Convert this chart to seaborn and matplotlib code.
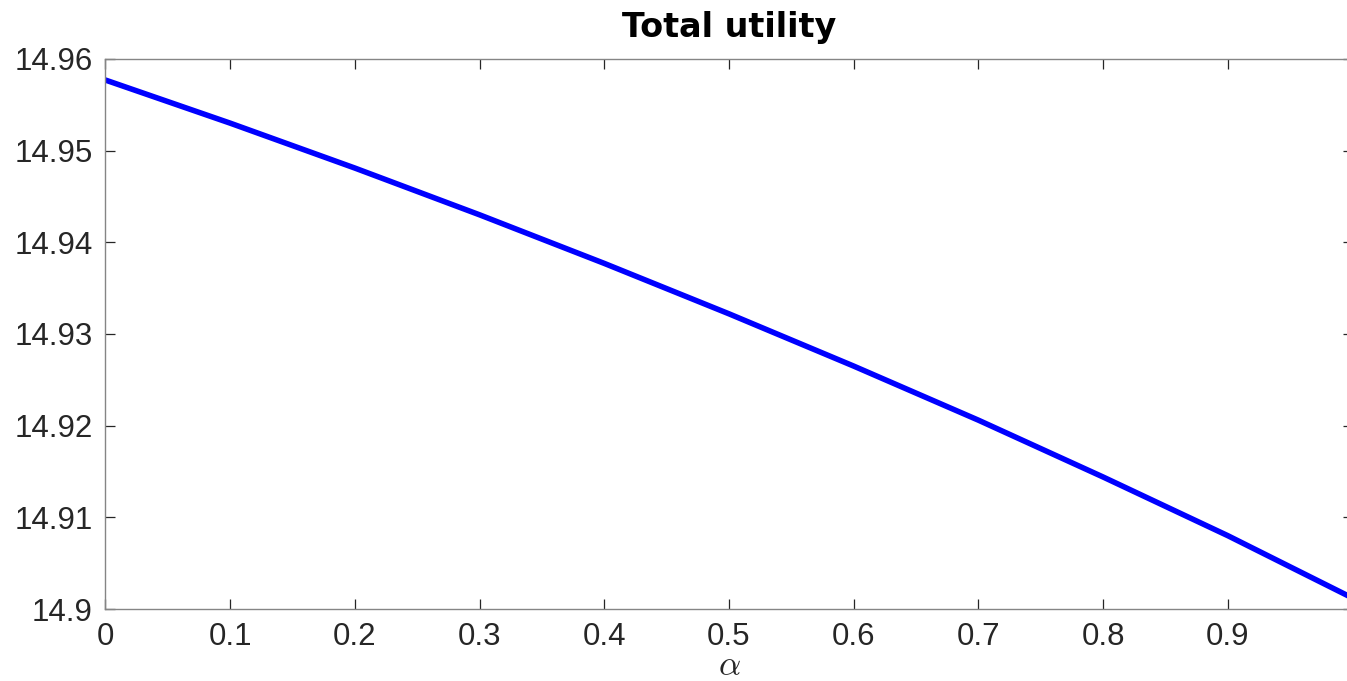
import matplotlib

matplotlib.use("Agg")
import matplotlib.pyplot as plt  # noqa: E402
import pandas as pd  # noqa: E402
import seaborn as sns  # noqa: E402

# values
alpha = [0.0, 0.1, 0.2, 0.3, 0.4, 0.5, 0.6, 0.7, 0.8, 0.9, 1.0]
utility = [14.9577, 14.9530, 14.9481, 14.9430, 14.9377, 14.9322,
           14.9265, 14.9206, 14.9144, 14.9080, 14.9012]
x_ticks = [0.0, 0.1, 0.2, 0.3, 0.4, 0.5, 0.6, 0.7, 0.8, 0.9]
x_tick_labels = ["0", "0.1", "0.2", "0.3", "0.4", "0.5", "0.6", "0.7", "0.8", "0.9"]
y_ticks = [14.90, 14.91, 14.92, 14.93, 14.94, 14.95, 14.96]
y_tick_labels = ["14.9", "14.91", "14.92", "14.93", "14.94", "14.95", "14.96"]

sns.set_theme(style="white")
plt.rcParams["font.family"] = ["Liberation Sans", "DejaVu Sans"]
plt.rcParams["mathtext.fontset"] = "cm"

df = pd.DataFrame({"alpha": alpha, "utility": utility})

fig = plt.figure(figsize=(13.47, 6.81), dpi=100)
ax = fig.add_axes([0.0783, 0.1057, 0.9258, 0.8077])
sns.lineplot(data=df, x="alpha", y="utility", ax=ax, color="#0000ff", linewidth=4.0)

ax.set_xlim(0, 1)
ax.set_ylim(14.90, 14.96)
ax.set_xticks(x_ticks)
ax.set_xticklabels(x_tick_labels)
ax.set_yticks(y_ticks)
ax.set_yticklabels(y_tick_labels)

for side in ax.spines.values():
    side.set_color("#858585")
    side.set_linewidth(1.0)
ax.tick_params(direction="in", length=7, width=0.9, color="#262626",
               labelsize=22.5, labelcolor="#262626", top=True, right=True,
               bottom=True, left=True)
ax.tick_params(axis="x", pad=9)
ax.tick_params(axis="y", pad=9)

ax.set_xlabel(r"$\alpha$", fontsize=25, color="#262626", labelpad=-2)
ax.set_ylabel("")
ax.set_title("Total utility", fontsize=24, fontweight="bold", color="black",
             family="DejaVu Sans", pad=16)

fig.savefig("out.png", dpi=100)
plt.close(fig)
